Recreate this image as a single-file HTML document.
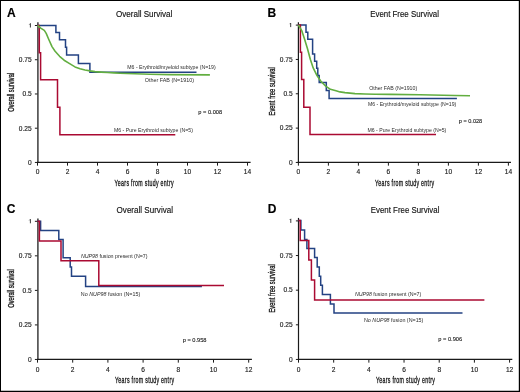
<!DOCTYPE html>
<html><head><meta charset="utf-8"><style>
html,body{margin:0;padding:0;background:#fff;}
svg{display:block;will-change:transform;}
text{font-family:"Liberation Sans", sans-serif;}
</style></head><body>
<svg width="520" height="392" viewBox="0 0 520 392">
<rect x="0" y="0" width="520" height="392" fill="#fff"/>
<line x1="37.9" y1="22.3" x2="37.9" y2="163.04999999999998" stroke="#3c3c3c" stroke-width="1.5"/>
<line x1="36.9" y1="162.45" x2="250.6" y2="162.45" stroke="#1a1a1a" stroke-width="1.2"/>
<line x1="34.9" y1="25.50" x2="37.5" y2="25.50" stroke="#1a1a1a" stroke-width="1"/>
<path d="M29.40,24.50 L30.40,23.50 L30.40,27.50" fill="none" stroke="#333" stroke-width="0.95"/>
<line x1="34.9" y1="59.74" x2="37.5" y2="59.74" stroke="#1a1a1a" stroke-width="1"/>
<text x="31.70" y="62.04" font-size="6.6" font-weight="normal" fill="#222" text-anchor="end" stroke="#222" stroke-width="0.15">0.75</text>
<line x1="34.9" y1="93.97" x2="37.5" y2="93.97" stroke="#1a1a1a" stroke-width="1"/>
<text x="31.70" y="96.27" font-size="6.6" font-weight="normal" fill="#222" text-anchor="end" stroke="#222" stroke-width="0.15">0.5</text>
<line x1="34.9" y1="128.21" x2="37.5" y2="128.21" stroke="#1a1a1a" stroke-width="1"/>
<text x="31.70" y="130.51" font-size="6.6" font-weight="normal" fill="#222" text-anchor="end" stroke="#222" stroke-width="0.15">0.25</text>
<line x1="34.9" y1="162.45" x2="37.5" y2="162.45" stroke="#1a1a1a" stroke-width="1"/>
<text x="31.70" y="164.75" font-size="6.6" font-weight="normal" fill="#222" text-anchor="end" stroke="#222" stroke-width="0.15">0</text>
<line x1="37.50" y1="162.45" x2="37.50" y2="165.64999999999998" stroke="#1a1a1a" stroke-width="1"/>
<text x="37.50" y="174.05" font-size="6.6" font-weight="normal" fill="#222" text-anchor="middle" stroke="#222" stroke-width="0.15">0</text>
<line x1="67.50" y1="162.45" x2="67.50" y2="165.64999999999998" stroke="#1a1a1a" stroke-width="1"/>
<text x="67.50" y="174.05" font-size="6.6" font-weight="normal" fill="#222" text-anchor="middle" stroke="#222" stroke-width="0.15">2</text>
<line x1="97.50" y1="162.45" x2="97.50" y2="165.64999999999998" stroke="#1a1a1a" stroke-width="1"/>
<text x="97.50" y="174.05" font-size="6.6" font-weight="normal" fill="#222" text-anchor="middle" stroke="#222" stroke-width="0.15">4</text>
<line x1="127.50" y1="162.45" x2="127.50" y2="165.64999999999998" stroke="#1a1a1a" stroke-width="1"/>
<text x="127.50" y="174.05" font-size="6.6" font-weight="normal" fill="#222" text-anchor="middle" stroke="#222" stroke-width="0.15">6</text>
<line x1="157.50" y1="162.45" x2="157.50" y2="165.64999999999998" stroke="#1a1a1a" stroke-width="1"/>
<text x="157.50" y="174.05" font-size="6.6" font-weight="normal" fill="#222" text-anchor="middle" stroke="#222" stroke-width="0.15">8</text>
<line x1="187.50" y1="162.45" x2="187.50" y2="165.64999999999998" stroke="#1a1a1a" stroke-width="1"/>
<text x="187.50" y="174.05" font-size="6.6" font-weight="normal" fill="#222" text-anchor="middle" stroke="#222" stroke-width="0.15">10</text>
<line x1="217.50" y1="162.45" x2="217.50" y2="165.64999999999998" stroke="#1a1a1a" stroke-width="1"/>
<text x="217.50" y="174.05" font-size="6.6" font-weight="normal" fill="#222" text-anchor="middle" stroke="#222" stroke-width="0.15">12</text>
<line x1="247.50" y1="162.45" x2="247.50" y2="165.64999999999998" stroke="#1a1a1a" stroke-width="1"/>
<text x="247.50" y="174.05" font-size="6.6" font-weight="normal" fill="#222" text-anchor="middle" stroke="#222" stroke-width="0.15">14</text>
<path d="M37.50,25.40 L55.90,25.40 L55.90,32.60 L59.50,32.60 L59.50,39.70 L65.50,39.70 L65.50,47.30 L66.60,47.30 L66.60,55.00 L78.40,55.00 L78.40,63.50 L89.90,63.50 L89.90,72.20 L196.50,72.20" fill="none" stroke="#234283" stroke-width="1.5" stroke-linejoin="miter" stroke-linecap="butt"/>
<path d="M37.50,25.50 L39.30,25.50 L39.30,52.70 L40.60,52.70 L40.60,79.80 L57.50,79.80 L57.50,107.30 L59.90,107.30 L59.90,134.80 L175.30,134.80" fill="none" stroke="#aa0a32" stroke-width="1.5" stroke-linejoin="miter" stroke-linecap="butt"/>
<path d="M37.5,25.5 L41.1,28.3 44.3,30.4 46.2,33.4 48.8,39.5 52,46.6 55.1,51.3 59.6,56.3 64.1,60.2 69.2,63.4 75,66.9 80,68.75 85,70 90,70.9 95,71.6 101,72.1 107.5,72.5 114,72.9 120,73.2 127,73.5 135,73.7 150,74.2 170,74.6 209.9,74.9" fill="none" stroke="#62ae40" stroke-width="1.6" stroke-linejoin="round"/>
<text x="7.00" y="17.00" font-size="12" font-weight="bold" fill="#000" text-anchor="start" stroke="#000" stroke-width="0.15">A</text>
<text x="116.00" y="16.60" font-size="9" font-weight="normal" fill="#111" text-anchor="start" textLength="56.40" lengthAdjust="spacingAndGlyphs" stroke="#111" stroke-width="0.15">Overall Survival</text>
<text x="127.30" y="69.00" font-size="5.3" font-weight="normal" fill="#2a2a2a" text-anchor="start" textLength="88.40" lengthAdjust="spacingAndGlyphs">M6 - Erythroid/myeloid subtype (N=19)</text>
<text x="144.80" y="82.10" font-size="5.3" font-weight="normal" fill="#2a2a2a" text-anchor="start" textLength="49.20" lengthAdjust="spacingAndGlyphs">Other FAB (N=1910)</text>
<text x="113.90" y="132.10" font-size="5.3" font-weight="normal" fill="#2a2a2a" text-anchor="start" textLength="79.00" lengthAdjust="spacingAndGlyphs">M6 - Pure Erythroid subtype (N=5)</text>
<text x="198.30" y="114.40" font-size="5.6" font-weight="normal" fill="#222" text-anchor="start" textLength="23.80" lengthAdjust="spacingAndGlyphs" stroke="#222" stroke-width="0.12">p = 0.008</text>
<text transform="translate(13.70,111.80) rotate(-90) scale(0.6,1)" x="0" y="0" font-size="9.5" font-weight="normal" fill="#1a1a1a" letter-spacing="-0.007" stroke="#1a1a1a" stroke-width="0.35">Overall survival</text>
<text transform="translate(114.50,185.60) scale(0.57,1)" x="0" y="0" font-size="9.2" font-weight="normal" fill="#1a1a1a" letter-spacing="0.579" stroke="#1a1a1a" stroke-width="0.35">Years from study entry</text>
<line x1="298.4" y1="22.2" x2="298.4" y2="163.04999999999998" stroke="#1a1a1a" stroke-width="1.2"/>
<line x1="297.79999999999995" y1="162.45" x2="511.0" y2="162.45" stroke="#1a1a1a" stroke-width="1.2"/>
<line x1="295.79999999999995" y1="25.10" x2="298.4" y2="25.10" stroke="#1a1a1a" stroke-width="1"/>
<path d="M289.70,24.10 L290.70,23.10 L290.70,27.10" fill="none" stroke="#333" stroke-width="0.95"/>
<line x1="295.79999999999995" y1="59.44" x2="298.4" y2="59.44" stroke="#1a1a1a" stroke-width="1"/>
<text x="292.60" y="61.74" font-size="6.6" font-weight="normal" fill="#222" text-anchor="end" stroke="#222" stroke-width="0.15">0.75</text>
<line x1="295.79999999999995" y1="93.77" x2="298.4" y2="93.77" stroke="#1a1a1a" stroke-width="1"/>
<text x="292.60" y="96.07" font-size="6.6" font-weight="normal" fill="#222" text-anchor="end" stroke="#222" stroke-width="0.15">0.5</text>
<line x1="295.79999999999995" y1="128.11" x2="298.4" y2="128.11" stroke="#1a1a1a" stroke-width="1"/>
<text x="292.60" y="130.41" font-size="6.6" font-weight="normal" fill="#222" text-anchor="end" stroke="#222" stroke-width="0.15">0.25</text>
<line x1="295.79999999999995" y1="162.45" x2="298.4" y2="162.45" stroke="#1a1a1a" stroke-width="1"/>
<text x="292.60" y="164.75" font-size="6.6" font-weight="normal" fill="#222" text-anchor="end" stroke="#222" stroke-width="0.15">0</text>
<line x1="298.40" y1="162.45" x2="298.40" y2="165.64999999999998" stroke="#1a1a1a" stroke-width="1"/>
<text x="298.40" y="174.05" font-size="6.6" font-weight="normal" fill="#222" text-anchor="middle" stroke="#222" stroke-width="0.15">0</text>
<line x1="328.40" y1="162.45" x2="328.40" y2="165.64999999999998" stroke="#1a1a1a" stroke-width="1"/>
<text x="328.40" y="174.05" font-size="6.6" font-weight="normal" fill="#222" text-anchor="middle" stroke="#222" stroke-width="0.15">2</text>
<line x1="358.40" y1="162.45" x2="358.40" y2="165.64999999999998" stroke="#1a1a1a" stroke-width="1"/>
<text x="358.40" y="174.05" font-size="6.6" font-weight="normal" fill="#222" text-anchor="middle" stroke="#222" stroke-width="0.15">4</text>
<line x1="388.40" y1="162.45" x2="388.40" y2="165.64999999999998" stroke="#1a1a1a" stroke-width="1"/>
<text x="388.40" y="174.05" font-size="6.6" font-weight="normal" fill="#222" text-anchor="middle" stroke="#222" stroke-width="0.15">6</text>
<line x1="418.40" y1="162.45" x2="418.40" y2="165.64999999999998" stroke="#1a1a1a" stroke-width="1"/>
<text x="418.40" y="174.05" font-size="6.6" font-weight="normal" fill="#222" text-anchor="middle" stroke="#222" stroke-width="0.15">8</text>
<line x1="448.40" y1="162.45" x2="448.40" y2="165.64999999999998" stroke="#1a1a1a" stroke-width="1"/>
<text x="448.40" y="174.05" font-size="6.6" font-weight="normal" fill="#222" text-anchor="middle" stroke="#222" stroke-width="0.15">10</text>
<line x1="478.40" y1="162.45" x2="478.40" y2="165.64999999999998" stroke="#1a1a1a" stroke-width="1"/>
<text x="478.40" y="174.05" font-size="6.6" font-weight="normal" fill="#222" text-anchor="middle" stroke="#222" stroke-width="0.15">12</text>
<line x1="508.40" y1="162.45" x2="508.40" y2="165.64999999999998" stroke="#1a1a1a" stroke-width="1"/>
<text x="508.40" y="174.05" font-size="6.6" font-weight="normal" fill="#222" text-anchor="middle" stroke="#222" stroke-width="0.15">14</text>
<path d="M298.40,25.00 L306.00,25.00 L306.00,32.20 L307.80,32.20 L307.80,39.30 L312.60,39.30 L312.60,53.90 L314.60,53.90 L314.60,61.20 L316.70,61.20 L316.70,68.30 L317.80,68.30 L317.80,75.60 L319.20,75.60 L319.20,82.60 L326.30,82.60 L326.30,90.40 L329.10,90.40 L329.10,98.40 L456.90,98.40" fill="none" stroke="#234283" stroke-width="1.5" stroke-linejoin="miter" stroke-linecap="butt"/>
<path d="M298.40,25.10 L300.40,25.10 L300.40,52.30 L301.60,52.30 L301.60,79.60 L303.80,79.60 L303.80,107.30 L310.00,107.30 L310.00,134.60 L436.00,134.60" fill="none" stroke="#aa0a32" stroke-width="1.5" stroke-linejoin="miter" stroke-linecap="butt"/>
<path d="M298.4,25.0 L301.7,30.6 304.6,39.2 307.5,48.8 310.3,59.3 313.2,67.9 317,75.6 320.9,81.3 325.7,86.1 330.4,89.3 336,90.8 340,91.9 345,92.6 350,93.1 355,93.6 365,94.0 375,94.2 390,94.4 420,94.8 455,95.5 470,95.75" fill="none" stroke="#62ae40" stroke-width="1.6" stroke-linejoin="round"/>
<text x="267.50" y="16.90" font-size="12" font-weight="bold" fill="#000" text-anchor="start" stroke="#000" stroke-width="0.15">B</text>
<text x="370.20" y="16.60" font-size="9" font-weight="normal" fill="#111" text-anchor="start" textLength="68.80" lengthAdjust="spacingAndGlyphs" stroke="#111" stroke-width="0.15">Event Free Survival</text>
<text x="369.20" y="90.00" font-size="5.3" font-weight="normal" fill="#2a2a2a" text-anchor="start" textLength="48.00" lengthAdjust="spacingAndGlyphs">Other FAB (N=1910)</text>
<text x="367.90" y="106.00" font-size="5.3" font-weight="normal" fill="#2a2a2a" text-anchor="start" textLength="88.40" lengthAdjust="spacingAndGlyphs">M6 - Erythroid/myeloid subtype (N=19)</text>
<text x="367.50" y="131.90" font-size="5.3" font-weight="normal" fill="#2a2a2a" text-anchor="start" textLength="78.80" lengthAdjust="spacingAndGlyphs">M6 - Pure Erythroid subtype (N=5)</text>
<text x="458.80" y="122.50" font-size="5.6" font-weight="normal" fill="#222" text-anchor="start" textLength="23.40" lengthAdjust="spacingAndGlyphs" stroke="#222" stroke-width="0.12">p = 0.028</text>
<text transform="translate(274.70,115.50) rotate(-90) scale(0.6,1)" x="0" y="0" font-size="9.5" font-weight="normal" fill="#1a1a1a" letter-spacing="0.140" stroke="#1a1a1a" stroke-width="0.35">Event free survival</text>
<text transform="translate(375.00,185.60) scale(0.57,1)" x="0" y="0" font-size="9.2" font-weight="normal" fill="#1a1a1a" letter-spacing="0.579" stroke="#1a1a1a" stroke-width="0.35">Years from study entry</text>
<line x1="37.9" y1="218.4" x2="37.9" y2="360.05" stroke="#3c3c3c" stroke-width="1.5"/>
<line x1="36.9" y1="359.45" x2="251.9" y2="359.45" stroke="#1a1a1a" stroke-width="1.2"/>
<line x1="34.9" y1="221.30" x2="37.5" y2="221.30" stroke="#1a1a1a" stroke-width="1"/>
<path d="M29.40,220.30 L30.40,219.30 L30.40,223.30" fill="none" stroke="#333" stroke-width="0.95"/>
<line x1="34.9" y1="255.84" x2="37.5" y2="255.84" stroke="#1a1a1a" stroke-width="1"/>
<text x="31.70" y="258.14" font-size="6.6" font-weight="normal" fill="#222" text-anchor="end" stroke="#222" stroke-width="0.15">0.75</text>
<line x1="34.9" y1="290.38" x2="37.5" y2="290.38" stroke="#1a1a1a" stroke-width="1"/>
<text x="31.70" y="292.68" font-size="6.6" font-weight="normal" fill="#222" text-anchor="end" stroke="#222" stroke-width="0.15">0.5</text>
<line x1="34.9" y1="324.91" x2="37.5" y2="324.91" stroke="#1a1a1a" stroke-width="1"/>
<text x="31.70" y="327.21" font-size="6.6" font-weight="normal" fill="#222" text-anchor="end" stroke="#222" stroke-width="0.15">0.25</text>
<line x1="34.9" y1="359.45" x2="37.5" y2="359.45" stroke="#1a1a1a" stroke-width="1"/>
<text x="31.70" y="361.75" font-size="6.6" font-weight="normal" fill="#222" text-anchor="end" stroke="#222" stroke-width="0.15">0</text>
<line x1="37.50" y1="359.45" x2="37.50" y2="362.65" stroke="#1a1a1a" stroke-width="1"/>
<text x="37.50" y="371.55" font-size="6.6" font-weight="normal" fill="#222" text-anchor="middle" stroke="#222" stroke-width="0.15">0</text>
<line x1="72.70" y1="359.45" x2="72.70" y2="362.65" stroke="#1a1a1a" stroke-width="1"/>
<text x="72.70" y="371.55" font-size="6.6" font-weight="normal" fill="#222" text-anchor="middle" stroke="#222" stroke-width="0.15">2</text>
<line x1="107.90" y1="359.45" x2="107.90" y2="362.65" stroke="#1a1a1a" stroke-width="1"/>
<text x="107.90" y="371.55" font-size="6.6" font-weight="normal" fill="#222" text-anchor="middle" stroke="#222" stroke-width="0.15">4</text>
<line x1="143.10" y1="359.45" x2="143.10" y2="362.65" stroke="#1a1a1a" stroke-width="1"/>
<text x="143.10" y="371.55" font-size="6.6" font-weight="normal" fill="#222" text-anchor="middle" stroke="#222" stroke-width="0.15">6</text>
<line x1="178.30" y1="359.45" x2="178.30" y2="362.65" stroke="#1a1a1a" stroke-width="1"/>
<text x="178.30" y="371.55" font-size="6.6" font-weight="normal" fill="#222" text-anchor="middle" stroke="#222" stroke-width="0.15">8</text>
<line x1="213.50" y1="359.45" x2="213.50" y2="362.65" stroke="#1a1a1a" stroke-width="1"/>
<text x="213.50" y="371.55" font-size="6.6" font-weight="normal" fill="#222" text-anchor="middle" stroke="#222" stroke-width="0.15">10</text>
<line x1="248.70" y1="359.45" x2="248.70" y2="362.65" stroke="#1a1a1a" stroke-width="1"/>
<text x="248.70" y="371.55" font-size="6.6" font-weight="normal" fill="#222" text-anchor="middle" stroke="#222" stroke-width="0.15">12</text>
<path d="M37.50,221.30 L40.60,221.30 L40.60,230.60 L58.80,230.60 L58.80,239.50 L63.10,239.50 L63.10,257.70 L70.20,257.70 L70.20,266.90 L71.50,266.90 L71.50,276.30 L85.60,276.30 L85.60,286.40 L201.90,286.40" fill="none" stroke="#234283" stroke-width="1.5" stroke-linejoin="miter" stroke-linecap="butt"/>
<path d="M37.50,221.30 L39.40,221.30 L39.40,241.00 L61.00,241.00 L61.00,260.70 L98.80,260.70 L98.80,285.40 L224.00,285.40" fill="none" stroke="#aa0a32" stroke-width="1.5" stroke-linejoin="miter" stroke-linecap="butt"/>
<text x="6.70" y="212.90" font-size="12" font-weight="bold" fill="#000" text-anchor="start" stroke="#000" stroke-width="0.15">C</text>
<text x="116.60" y="213.00" font-size="9" font-weight="normal" fill="#111" text-anchor="start" textLength="56.40" lengthAdjust="spacingAndGlyphs" stroke="#111" stroke-width="0.15">Overall Survival</text>
<text x="80.90" y="258.30" font-size="5.3" font-weight="normal" fill="#2a2a2a" text-anchor="start" textLength="66.60" lengthAdjust="spacingAndGlyphs"><tspan font-style="italic">NUP98</tspan> fusion present (N=7)</text>
<text x="80.80" y="295.50" font-size="5.3" font-weight="normal" fill="#2a2a2a" text-anchor="start" textLength="59.40" lengthAdjust="spacingAndGlyphs">No <tspan font-style="italic">NUP98</tspan> fusion (N=15)</text>
<text x="182.70" y="342.30" font-size="5.6" font-weight="normal" fill="#222" text-anchor="start" textLength="23.80" lengthAdjust="spacingAndGlyphs" stroke="#222" stroke-width="0.12">p = 0.958</text>
<text transform="translate(13.70,307.70) rotate(-90) scale(0.6,1)" x="0" y="0" font-size="9.5" font-weight="normal" fill="#1a1a1a" letter-spacing="-0.062" stroke="#1a1a1a" stroke-width="0.35">Overall survival</text>
<text transform="translate(115.00,382.80) scale(0.57,1)" x="0" y="0" font-size="9.2" font-weight="normal" fill="#1a1a1a" letter-spacing="0.579" stroke="#1a1a1a" stroke-width="0.35">Years from study entry</text>
<line x1="298.5" y1="217.9" x2="298.5" y2="360.05" stroke="#1a1a1a" stroke-width="1.2"/>
<line x1="297.9" y1="359.45" x2="512.3" y2="359.45" stroke="#1a1a1a" stroke-width="1.2"/>
<line x1="295.9" y1="220.90" x2="298.5" y2="220.90" stroke="#1a1a1a" stroke-width="1"/>
<path d="M289.80,219.90 L290.80,218.90 L290.80,222.90" fill="none" stroke="#333" stroke-width="0.95"/>
<line x1="295.9" y1="255.54" x2="298.5" y2="255.54" stroke="#1a1a1a" stroke-width="1"/>
<text x="292.70" y="257.84" font-size="6.6" font-weight="normal" fill="#222" text-anchor="end" stroke="#222" stroke-width="0.15">0.75</text>
<line x1="295.9" y1="290.18" x2="298.5" y2="290.18" stroke="#1a1a1a" stroke-width="1"/>
<text x="292.70" y="292.48" font-size="6.6" font-weight="normal" fill="#222" text-anchor="end" stroke="#222" stroke-width="0.15">0.5</text>
<line x1="295.9" y1="324.81" x2="298.5" y2="324.81" stroke="#1a1a1a" stroke-width="1"/>
<text x="292.70" y="327.11" font-size="6.6" font-weight="normal" fill="#222" text-anchor="end" stroke="#222" stroke-width="0.15">0.25</text>
<line x1="295.9" y1="359.45" x2="298.5" y2="359.45" stroke="#1a1a1a" stroke-width="1"/>
<text x="292.70" y="361.75" font-size="6.6" font-weight="normal" fill="#222" text-anchor="end" stroke="#222" stroke-width="0.15">0</text>
<line x1="298.50" y1="359.45" x2="298.50" y2="362.65" stroke="#1a1a1a" stroke-width="1"/>
<text x="298.50" y="371.55" font-size="6.6" font-weight="normal" fill="#222" text-anchor="middle" stroke="#222" stroke-width="0.15">0</text>
<line x1="333.68" y1="359.45" x2="333.68" y2="362.65" stroke="#1a1a1a" stroke-width="1"/>
<text x="333.68" y="371.55" font-size="6.6" font-weight="normal" fill="#222" text-anchor="middle" stroke="#222" stroke-width="0.15">2</text>
<line x1="368.86" y1="359.45" x2="368.86" y2="362.65" stroke="#1a1a1a" stroke-width="1"/>
<text x="368.86" y="371.55" font-size="6.6" font-weight="normal" fill="#222" text-anchor="middle" stroke="#222" stroke-width="0.15">4</text>
<line x1="404.04" y1="359.45" x2="404.04" y2="362.65" stroke="#1a1a1a" stroke-width="1"/>
<text x="404.04" y="371.55" font-size="6.6" font-weight="normal" fill="#222" text-anchor="middle" stroke="#222" stroke-width="0.15">6</text>
<line x1="439.22" y1="359.45" x2="439.22" y2="362.65" stroke="#1a1a1a" stroke-width="1"/>
<text x="439.22" y="371.55" font-size="6.6" font-weight="normal" fill="#222" text-anchor="middle" stroke="#222" stroke-width="0.15">8</text>
<line x1="474.40" y1="359.45" x2="474.40" y2="362.65" stroke="#1a1a1a" stroke-width="1"/>
<text x="474.40" y="371.55" font-size="6.6" font-weight="normal" fill="#222" text-anchor="middle" stroke="#222" stroke-width="0.15">10</text>
<line x1="509.58" y1="359.45" x2="509.58" y2="362.65" stroke="#1a1a1a" stroke-width="1"/>
<text x="509.58" y="371.55" font-size="6.6" font-weight="normal" fill="#222" text-anchor="middle" stroke="#222" stroke-width="0.15">12</text>
<path d="M298.50,220.50 L300.90,220.50 L300.90,230.10 L304.60,230.10 L304.60,239.40 L306.90,239.40 L306.90,248.40 L314.60,248.40 L314.60,257.50 L317.20,257.50 L317.20,267.00 L319.30,267.00 L319.30,276.30 L320.70,276.30 L320.70,285.30 L322.40,285.30 L322.40,294.60 L330.40,294.60 L330.40,303.90 L334.00,303.90 L334.00,313.00 L462.50,313.00" fill="none" stroke="#234283" stroke-width="1.5" stroke-linejoin="miter" stroke-linecap="butt"/>
<path d="M298.50,220.50 L300.20,220.50 L300.20,240.60 L308.80,240.60 L308.80,260.10 L311.40,260.10 L311.40,280.10 L314.60,280.10 L314.60,300.10 L484.40,300.10" fill="none" stroke="#aa0a32" stroke-width="1.5" stroke-linejoin="miter" stroke-linecap="butt"/>
<text x="267.80" y="212.90" font-size="12" font-weight="bold" fill="#000" text-anchor="start" stroke="#000" stroke-width="0.15">D</text>
<text x="370.80" y="212.60" font-size="9" font-weight="normal" fill="#111" text-anchor="start" textLength="68.60" lengthAdjust="spacingAndGlyphs" stroke="#111" stroke-width="0.15">Event Free Survival</text>
<text x="354.90" y="295.80" font-size="5.3" font-weight="normal" fill="#2a2a2a" text-anchor="start" textLength="66.40" lengthAdjust="spacingAndGlyphs"><tspan font-style="italic">NUP98</tspan> fusion present (N=7)</text>
<text x="364.00" y="321.60" font-size="5.3" font-weight="normal" fill="#2a2a2a" text-anchor="start" textLength="59.40" lengthAdjust="spacingAndGlyphs">No <tspan font-style="italic">NUP98</tspan> fusion (N=15)</text>
<text x="438.30" y="341.00" font-size="5.6" font-weight="normal" fill="#222" text-anchor="start" textLength="23.80" lengthAdjust="spacingAndGlyphs" stroke="#222" stroke-width="0.12">p = 0.906</text>
<text transform="translate(274.70,312.60) rotate(-90) scale(0.6,1)" x="0" y="0" font-size="9.5" font-weight="normal" fill="#1a1a1a" letter-spacing="0.140" stroke="#1a1a1a" stroke-width="0.35">Event free survival</text>
<text transform="translate(375.90,382.80) scale(0.57,1)" x="0" y="0" font-size="9.2" font-weight="normal" fill="#1a1a1a" letter-spacing="0.579" stroke="#1a1a1a" stroke-width="0.35">Years from study entry</text>
<rect x="0.5" y="0.5" width="519" height="391" fill="none" stroke="#000" stroke-width="1"/>
<line x1="519.4" y1="0" x2="519.4" y2="392" stroke="#000" stroke-width="1.2"/>
<line x1="0" y1="391.4" x2="520" y2="391.4" stroke="#000" stroke-width="1.2"/>
</svg>
</body></html>
